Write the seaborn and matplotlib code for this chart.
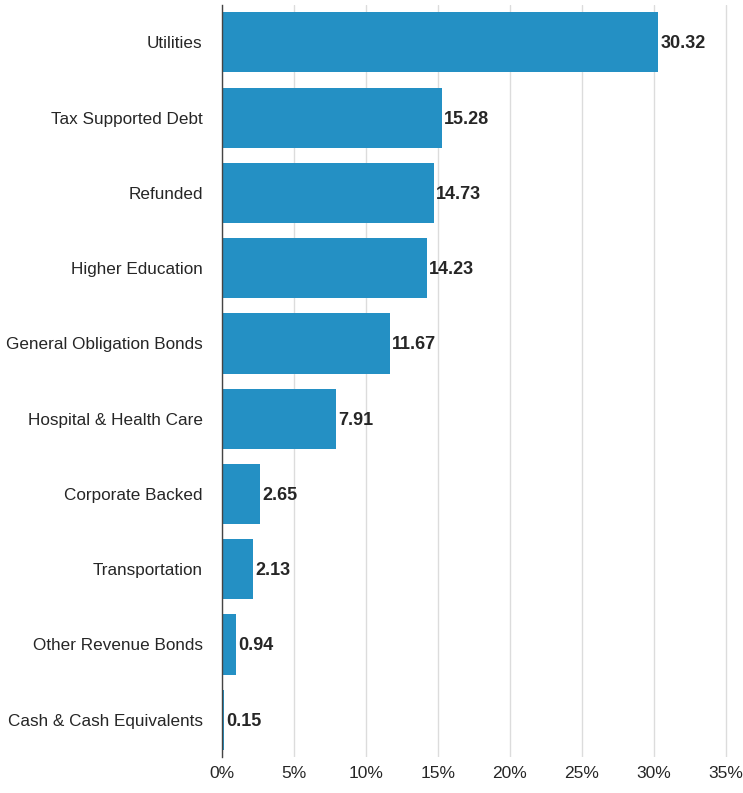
import matplotlib; matplotlib.use('Agg')
import pandas as pd
import numpy as np
import matplotlib.pyplot as plt
import seaborn as sns
from matplotlib.ticker import FuncFormatter

# Sector weights (%)
sectors = ['Utilities', 'Tax Supported Debt', 'Refunded', 'Higher Education',
           'General Obligation Bonds', 'Hospital & Health Care', 'Corporate Backed',
           'Transportation', 'Other Revenue Bonds', 'Cash & Cash Equivalents']
weights = [30.32, 15.28, 14.73, 14.23, 11.67, 7.91, 2.65, 2.13, 0.94, 0.15]

df = pd.DataFrame({'sector': sectors, 'weight': weights})

sns.set_style('white')
plt.rcParams['font.family'] = ['Liberation Sans', 'DejaVu Sans']

fig = plt.figure(figsize=(7.43, 7.93), dpi=100)
ax = fig.add_axes([0.299, 0.045, 0.697, 0.949])

sns.barplot(data=df, x='weight', y='sector', color='#2490C4', saturation=1,
            width=0.8, ax=ax, zorder=3, linewidth=0, edgecolor='none')

for i, v in enumerate(weights):
    ax.text(v + 0.15, i + 0.02, f'{v:.2f}', va='center', ha='left', fontsize=13,
            fontweight='bold', color='#262626', zorder=4)

ax.set_xlim(0, 36)
ax.set_xticks(np.arange(0, 36, 5))
ax.xaxis.set_major_formatter(FuncFormatter(lambda x, p: f'{x:.0f}%'))
ax.grid(axis='x', color='#dcdcdc', linewidth=1, zorder=0)
ax.set_xlabel('')
ax.set_ylabel('')
ax.tick_params(axis='both', length=0, labelcolor='#262626')
ax.tick_params(axis='y', pad=14, labelsize=12.3)
ax.tick_params(axis='x', pad=6, labelsize=12.5)
for s in ['top', 'right', 'bottom']:
    ax.spines[s].set_visible(False)
ax.spines['left'].set_color('#444444')
ax.spines['left'].set_linewidth(1)
ax.spines['left'].set_zorder(5)

plt.savefig('out.png', dpi=100)
plt.close()
